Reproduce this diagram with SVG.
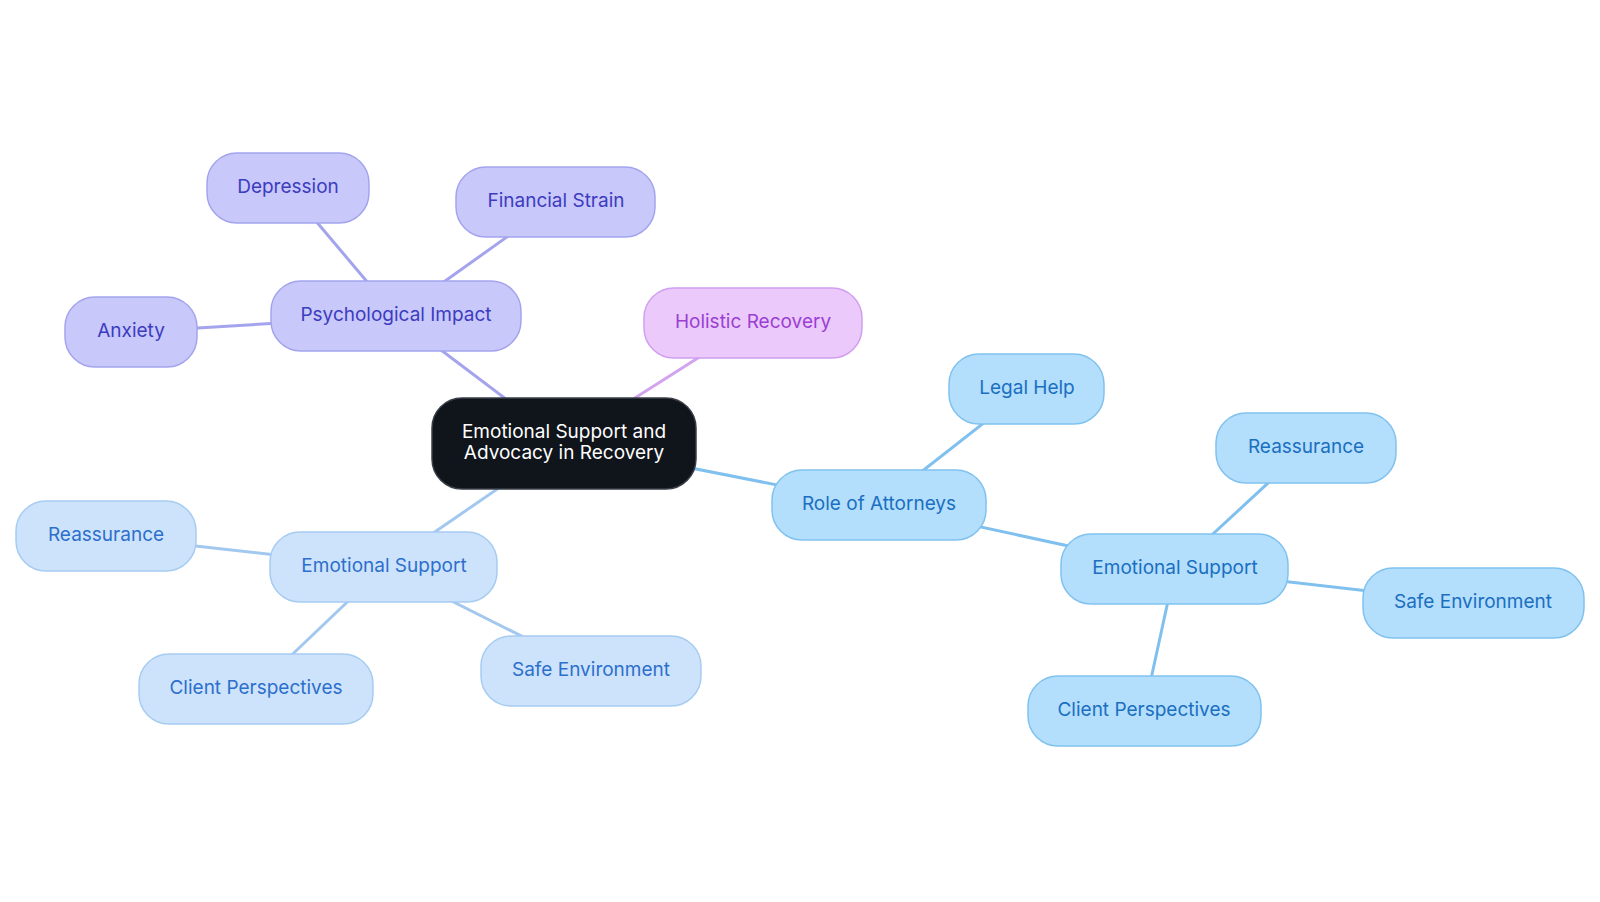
<svg xmlns="http://www.w3.org/2000/svg" width="1600" height="902" viewBox="0 0 1600 902">
<style>
text{font-family:Inter,"Noto Sans",sans-serif;font-size:19px;text-anchor:middle;dominant-baseline:central}
.c rect{fill:#10141b;stroke:#3a3f48;stroke-width:1.5}
.c text{fill:#ffffff}
.p rect{fill:#c8c8fa;stroke:#a4a4ee;stroke-width:1.5}
.p text{fill:#3c3cbe}
.h rect{fill:#ebc9fb;stroke:#d09ff0;stroke-width:1.5}
.h text{fill:#9a3fd2}
.r rect{fill:#b3defc;stroke:#80c2ef;stroke-width:1.5}
.r text{fill:#1a6fc0}
.l rect{fill:#cce3fb;stroke:#a6ccf1;stroke-width:1.5}
.l text{fill:#2c6fcc}
#edges line{stroke-width:3;fill:none}
.ep{stroke:#a4a4ee}
.eh{stroke:#d3a4ee}
.er{stroke:#80c0ee}
.el{stroke:#a2c8ef}
</style>
<rect width="1600" height="902" fill="#ffffff"/>
<g id="edges">
<line class="ep" x1="564" y1="443" x2="396" y2="316"/>
<line class="eh" x1="564" y1="443" x2="753" y2="323"/>
<line class="er" x1="564" y1="443" x2="879" y2="505"/>
<line class="el" x1="564" y1="443" x2="384" y2="567"/>
<line class="ep" x1="396" y1="316" x2="288" y2="188"/>
<line class="ep" x1="396" y1="316" x2="556" y2="202"/>
<line class="ep" x1="396" y1="316" x2="131" y2="332"/>
<line class="er" x1="879" y1="505" x2="1027" y2="389"/>
<line class="er" x1="879" y1="505" x2="1175" y2="569"/>
<line class="er" x1="1175" y1="569" x2="1306" y2="448"/>
<line class="er" x1="1175" y1="569" x2="1473" y2="603"/>
<line class="er" x1="1175" y1="569" x2="1144" y2="711"/>
<line class="el" x1="384" y1="567" x2="106" y2="536"/>
<line class="el" x1="384" y1="567" x2="256" y2="689"/>
<line class="el" x1="384" y1="567" x2="591" y2="671"/>
</g>
<g id="n-center" class="c"><rect x="432" y="398" width="264" height="91" rx="30"/><text x="564" y="431">Emotional Support and</text><text x="564" y="452">Advocacy in Recovery</text></g>
<g id="n-psych" class="p"><rect x="271" y="281" width="250" height="70" rx="30"/><text x="396" y="314">Psychological Impact</text></g>
<g id="n-depression" class="p"><rect x="207" y="153" width="162" height="70" rx="30"/><text x="288" y="186">Depression</text></g>
<g id="n-financial" class="p"><rect x="456" y="167" width="199" height="70" rx="30"/><text x="556" y="200">Financial Strain</text></g>
<g id="n-anxiety" class="p"><rect x="65" y="297" width="132" height="70" rx="30"/><text x="131" y="330">Anxiety</text></g>
<g id="n-holistic" class="h"><rect x="644" y="288" width="218" height="70" rx="30"/><text x="753" y="321">Holistic Recovery</text></g>
<g id="n-role" class="r"><rect x="772" y="470" width="214" height="70" rx="30"/><text x="879" y="503">Role of Attorneys</text></g>
<g id="n-legal" class="r"><rect x="949" y="354" width="155" height="70" rx="30"/><text x="1027" y="387">Legal Help</text></g>
<g id="n-es-right" class="r"><rect x="1061" y="534" width="227" height="70" rx="30"/><text x="1175" y="567">Emotional Support</text></g>
<g id="n-reass-right" class="r"><rect x="1216" y="413" width="180" height="70" rx="30"/><text x="1306" y="446">Reassurance</text></g>
<g id="n-safe-right" class="r"><rect x="1363" y="568" width="221" height="70" rx="30"/><text x="1473" y="601">Safe Environment</text></g>
<g id="n-client-right" class="r"><rect x="1028" y="676" width="233" height="70" rx="30"/><text x="1144" y="709">Client Perspectives</text></g>
<g id="n-es-left" class="l"><rect x="270" y="532" width="227" height="70" rx="30"/><text x="384" y="565">Emotional Support</text></g>
<g id="n-reass-left" class="l"><rect x="16" y="501" width="180" height="70" rx="30"/><text x="106" y="534">Reassurance</text></g>
<g id="n-client-left" class="l"><rect x="139" y="654" width="234" height="70" rx="30"/><text x="256" y="687">Client Perspectives</text></g>
<g id="n-safe-left" class="l"><rect x="481" y="636" width="220" height="70" rx="30"/><text x="591" y="669">Safe Environment</text></g>
</svg>
